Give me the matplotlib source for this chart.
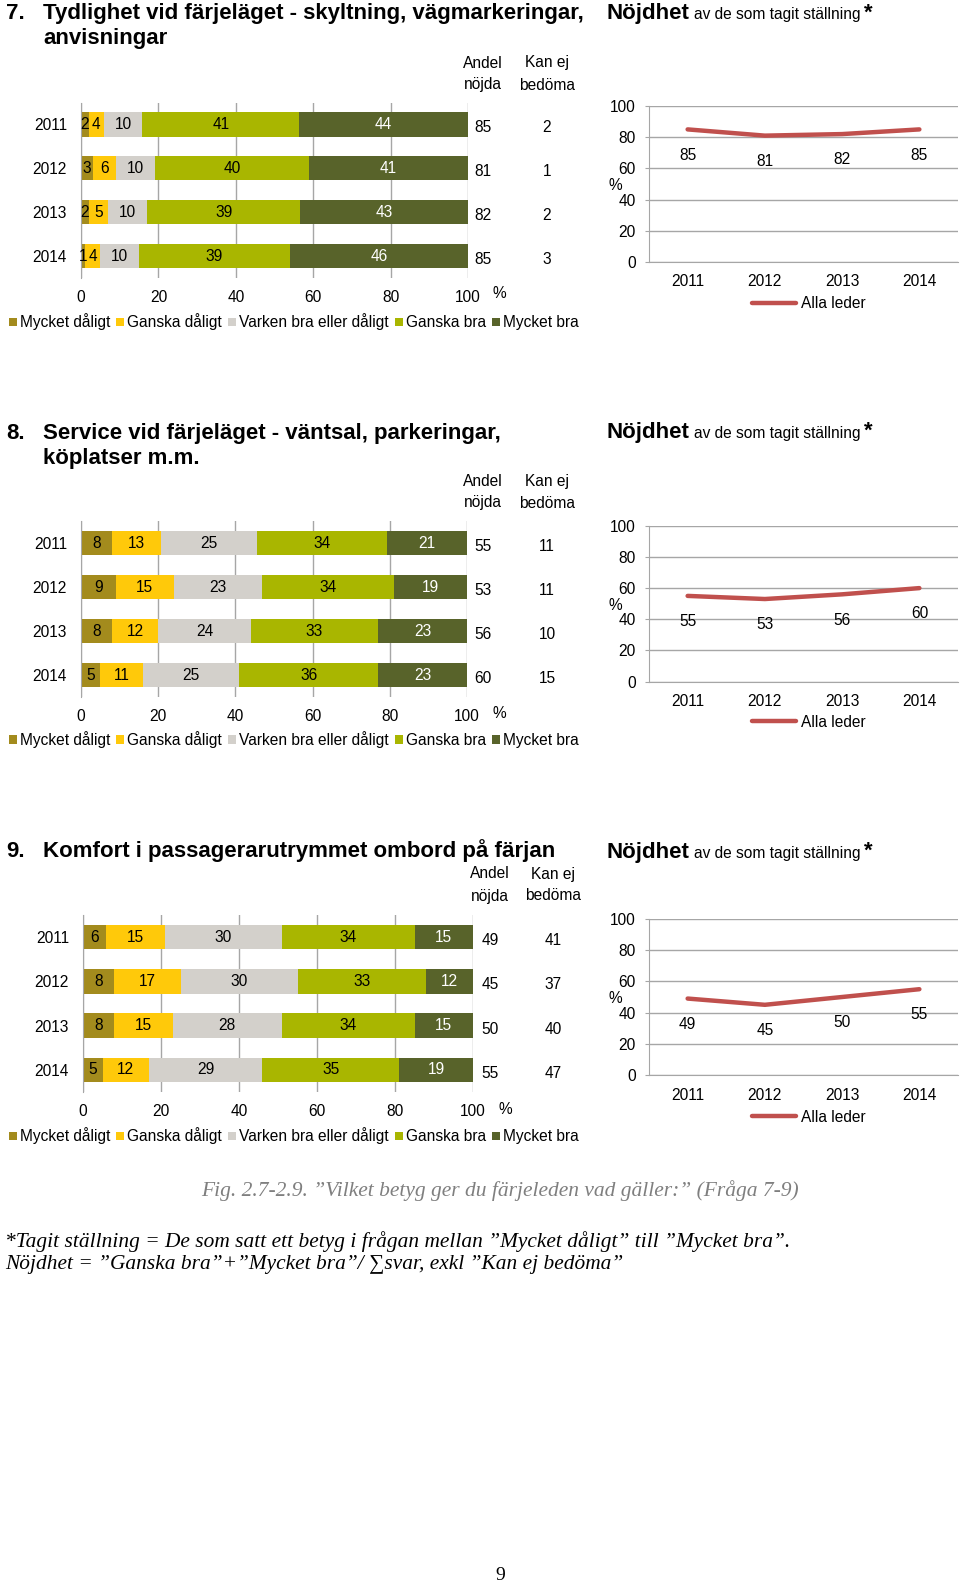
import matplotlib
matplotlib.use('Agg')
import matplotlib.pyplot as plt
import numpy as np
from matplotlib.patches import Patch
from matplotlib.transforms import blended_transform_factory

plt.rcParams['font.family'] = ['Liberation Sans', 'DejaVu Sans']

# ---------------- data ----------------
years = ['2011', '2012', '2013', '2014']
categories = ['Mycket dåligt', 'Ganska dåligt', 'Varken bra eller dåligt', 'Ganska bra', 'Mycket bra']

q7_mycket_daligt = [2, 3, 2, 1]
q7_ganska_daligt = [4, 6, 5, 4]
q7_varken = [10, 10, 10, 10]
q7_ganska_bra = [41, 40, 39, 39]
q7_mycket_bra = [44, 41, 43, 46]
q7_andel_nojda = [85, 81, 82, 85]
q7_kan_ej = [2, 1, 2, 3]

q8_mycket_daligt = [8, 9, 8, 5]
q8_ganska_daligt = [13, 15, 12, 11]
q8_varken = [25, 23, 24, 25]
q8_ganska_bra = [34, 34, 33, 36]
q8_mycket_bra = [21, 19, 23, 23]
q8_andel_nojda = [55, 53, 56, 60]
q8_kan_ej = [11, 11, 10, 15]

q9_mycket_daligt = [6, 8, 8, 5]
q9_ganska_daligt = [15, 17, 15, 12]
q9_varken = [30, 30, 28, 29]
q9_ganska_bra = [34, 33, 34, 35]
q9_mycket_bra = [15, 12, 15, 19]
q9_andel_nojda = [49, 45, 50, 55]
q9_kan_ej = [41, 37, 40, 47]

# ---------------- style ----------------
seg_colors = ['#A38B1D', '#FFC90A', '#D3D0CB', '#A9B600', '#58632A']
seg_text = ['black', 'black', 'black', 'black', 'white']
grid_c = '#A6A6A6'
line_c = '#C0504D'
FS = 11.2

W, H = 960, 1587
fig = plt.figure(figsize=(W / 100, H / 100), dpi=100)


def rect(x0, y0, x1, y1):
    return [x0 / W, 1 - y1 / H, (x1 - x0) / W, (y1 - y0) / H]


def fx(x):
    return x / W


def fy(y):
    return 1 - y / H


def bar_chart(box, series, andel, kan_ej, col_x, head_y, pct_xy, legend_y):
    ax = fig.add_axes(rect(*box))
    raw = np.array(series, dtype=float)
    data = raw / raw.sum(axis=0) * 100
    ypos = np.arange(len(years))
    left = np.zeros(len(years))
    for i in range(len(categories)):
        ax.barh(ypos, data[i], left=left, height=0.55, color=seg_colors[i],
                label=categories[i], zorder=2)
        for yy, l, v, r in zip(ypos, left, data[i], series[i]):
            ax.text(l + v / 2, yy, str(r), ha='center', va='center',
                    fontsize=FS, color=seg_text[i], zorder=3)
        left = left + data[i]
    ax.set_xlim(0, 100)
    ax.set_ylim(3.5, -0.5)
    ax.set_yticks(ypos)
    ax.set_yticklabels(years)
    ax.set_xticks([0, 20, 40, 60, 80, 100])
    ax.grid(axis='x', color=grid_c, lw=1, zorder=0)
    ax.set_axisbelow(True)
    for s in ['top', 'right', 'bottom']:
        ax.spines[s].set_visible(False)
    ax.spines['left'].set_color(grid_c)
    ax.tick_params(length=0, labelsize=FS)
    ax.tick_params(axis='y', pad=10)
    ax.tick_params(axis='x', pad=8.5)
    tr = blended_transform_factory(fig.transFigure, ax.transData)
    for yy, a, k in zip(ypos, andel, kan_ej):
        ax.text(fx(col_x[0]), yy + 0.08, str(a), transform=tr, ha='center', va='center', fontsize=FS)
        ax.text(fx(col_x[1]), yy + 0.08, str(k), transform=tr, ha='center', va='center', fontsize=FS)
    fig.text(fx(col_x[0]), fy(head_y[0]), 'Andel', ha='center', va='center', fontsize=FS)
    fig.text(fx(col_x[0]), fy(head_y[1]), 'nöjda', ha='center', va='center', fontsize=FS)
    fig.text(fx(col_x[1]), fy(head_y[0]), 'Kan ej', ha='center', va='center', fontsize=FS)
    fig.text(fx(col_x[1]), fy(head_y[1]), 'bedöma', ha='center', va='center', fontsize=FS)
    fig.text(fx(pct_xy[0]), fy(pct_xy[1]), '%', ha='center', va='center', fontsize=FS)
    handles = [Patch(facecolor=c, edgecolor='none') for c in seg_colors]
    ax.legend(handles, categories, ncol=5, loc='center left',
              bbox_to_anchor=(fx(9), fy(legend_y)), bbox_transform=fig.transFigure,
              frameon=False, fontsize=FS, handlelength=0.5, handleheight=0.5,
              handletextpad=0.2, columnspacing=0.4, borderpad=0, borderaxespad=0)
    return ax


def line_chart(box, values, legend_y, head_baseline):
    ax = fig.add_axes(rect(*box))
    x = np.arange(len(years)) + 0.5
    ax.plot(x, values, color=line_c, lw=3.2, solid_capstyle='round', zorder=3, label='Alla leder')
    for xx, v in zip(x, values):
        ax.annotate(str(v), (xx, v), xytext=(0, -18.5), textcoords='offset points',
                    ha='center', va='center', fontsize=FS)
    ax.set_xlim(0, 4)
    ax.set_ylim(0, 100)
    ax.set_xticks(x)
    ax.set_xticklabels(years)
    ax.set_yticks(range(0, 101, 20))
    ax.grid(axis='y', color=grid_c, lw=1, zorder=0)
    for s in ['top', 'right']:
        ax.spines[s].set_visible(False)
    for s in ['left', 'bottom']:
        ax.spines[s].set_color(grid_c)
    ax.tick_params(axis='y', length=3, color=grid_c, pad=6.5, labelsize=FS)
    ax.tick_params(axis='x', length=0, pad=9, labelsize=FS)
    tr = blended_transform_factory(fig.transFigure, ax.transData)
    ax.text(fx(615), 49, '%', transform=tr, ha='center', va='center', fontsize=FS)
    ax.legend(loc='center left', bbox_to_anchor=(fx(752), fy(legend_y)),
              bbox_transform=fig.transFigure, frameon=False, fontsize=FS,
              handlelength=2.8, handletextpad=0.35, borderpad=0, borderaxespad=0)
    fig.text(fx(607), fy(head_baseline), 'Nöjdhet', fontsize=16, fontweight='bold', va='baseline')
    fig.text(fx(694), fy(head_baseline), 'av de som tagit ställning', fontsize=FS, va='baseline')
    fig.text(fx(864), fy(head_baseline - 1), '*', fontsize=16, fontweight='bold', va='baseline')
    return ax


def title(num, lines, baseline):
    fig.text(fx(6), fy(baseline), num, fontsize=16, fontweight='bold', va='baseline')
    for i, t in enumerate(lines):
        fig.text(fx(43), fy(baseline + 25 * i), t, fontsize=16, fontweight='bold', va='baseline')


# ---------------- chart 7 ----------------
title('7.', ['Tydlighet vid färjeläget - skyltning, vägmarkeringar,', 'anvisningar'], 19)
bar_chart((81, 102.5, 468, 278),
          [q7_mycket_daligt, q7_ganska_daligt, q7_varken, q7_ganska_bra, q7_mycket_bra],
          q7_andel_nojda, q7_kan_ej, (483, 547), (63, 85), (499, 293), 322)
line_chart((649, 106, 958, 262), q7_andel_nojda, 303.5, 19.5)

# ---------------- chart 8 ----------------
title('8.', ['Service vid färjeläget - väntsal, parkeringar,', 'köplatser m.m.'], 439)
bar_chart((81, 521, 467, 697),
          [q8_mycket_daligt, q8_ganska_daligt, q8_varken, q8_ganska_bra, q8_mycket_bra],
          q8_andel_nojda, q8_kan_ej, (483, 547), (481.5, 503), (499, 713), 739.5)
line_chart((649, 525.7, 958, 681.7), q8_andel_nojda, 722, 438)

# ---------------- chart 9 ----------------
title('9.', ['Komfort i passagerarutrymmet ombord på färjan'], 856.5)
bar_chart((83, 915, 473, 1092),
          [q9_mycket_daligt, q9_ganska_daligt, q9_varken, q9_ganska_bra, q9_mycket_bra],
          q9_andel_nojda, q9_kan_ej, (490, 553), (874, 896), (505, 1110), 1136)
line_chart((649, 919, 958, 1075), q9_andel_nojda, 1117, 858)

# ---------------- captions ----------------
serif = ['Liberation Serif', 'DejaVu Serif']
fig.text(fx(500), fy(1191), 'Fig. 2.7-2.9. ”Vilket betyg ger du färjeleden vad gäller:” (Fråga 7-9)',
         ha='center', va='center', fontsize=15.5, style='italic', color='#7F7F7F', family=serif)
fig.text(fx(5), fy(1242), '*Tagit ställning = De som satt ett betyg i frågan mellan ”Mycket dåligt” till ”Mycket bra”.',
         ha='left', va='center', fontsize=15.4, style='italic', color='black', family=serif)
fig.text(fx(5), fy(1265), 'Nöjdhet = ”Ganska bra”+”Mycket bra”/ ∑svar, exkl ”Kan ej bedöma”',
         ha='left', va='center', fontsize=15.4, style='italic', color='black', family=serif)
fig.text(fx(500), fy(1575), '9', ha='center', va='center', fontsize=14, family=serif)

fig.savefig('out.png', dpi=100)
